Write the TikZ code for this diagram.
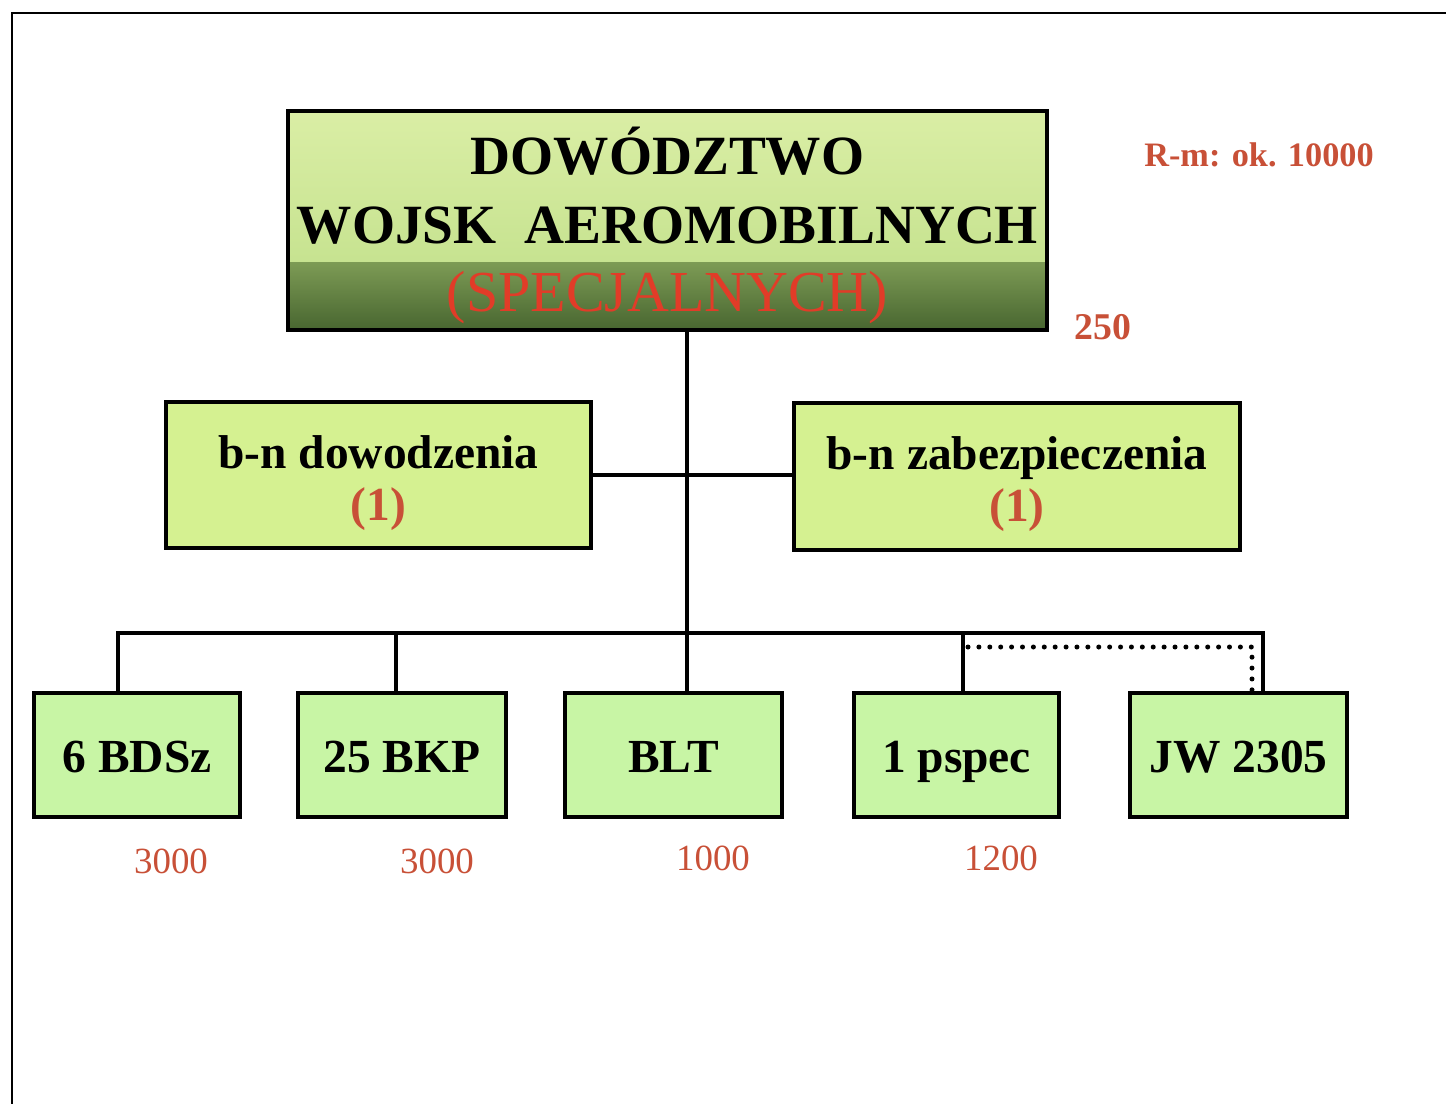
\documentclass[tikz,border=0pt]{standalone}
\usepackage{fontspec}
\setmainfont{Liberation Serif}
\definecolor{hqtop}{RGB}{218,238,165}
\definecolor{hqmid}{RGB}{190,222,135}
\definecolor{hqlow}{RGB}{125,155,85}
\definecolor{hqdark}{RGB}{72,102,48}
\definecolor{bngreen}{RGB}{213,241,145}
\definecolor{unitgreen}{RGB}{200,245,165}
\definecolor{numred}{RGB}{200,80,55}
\definecolor{specred}{RGB}{225,60,40}
\begin{document}
\begin{tikzpicture}[x=0.2mm,y=-0.2mm,
 box/.style={draw,line width=0.8mm,inner sep=0pt},
 unit/.style={box,fill=unitgreen,minimum height=24.8mm,text height=19.4pt,text depth=0pt,
   font=\bfseries\fontsize{27}{30}\selectfont},
 bn/.style={box,fill=bngreen,minimum width=85mm,minimum height=29.2mm,align=center,
   font=\bfseries\fontsize{27}{29.6}\selectfont},
 num/.style={text=numred,font=\fontsize{21}{24}\selectfont},
 link/.style={line width=0.8mm}]
 \useasboundingbox (0,0) rectangle (1446,1104);
 \draw[line width=0.4mm] (12,1104) -- (12,13) -- (1446,13);
 \node[box,minimum width=151.8mm,minimum height=43.8mm,align=center,
   font=\bfseries\fontsize{31.5}{39}\selectfont,
   path picture={
     \shade[top color=hqtop,bottom color=hqmid] (path picture bounding box.north west)
       rectangle ([yshift=-30.2mm]path picture bounding box.north east);
     \shade[top color=hqlow,bottom color=hqdark] ([yshift=-30.2mm]path picture bounding box.north west)
       rectangle (path picture bounding box.south east);
   }] (hq) at (667.5,220.5)
   {\rule{0pt}{33pt}DOWÓDZTWO\\WOJSK\hspace{0.5em}AEROMOBILNYCH\\{\mdseries\fontsize{33}{39}\selectfont\color{specred}(SPECJALNYCH)}};
 \node[text=numred,font=\bfseries\fontsize{19.5}{22}\selectfont] (rm) at (1259,155) {R-m: ok. 10000};
 \node[text=numred,font=\bfseries\fontsize{21.5}{24}\selectfont] (hqn) at (1103,327) {250};
 \node[bn] (dow) at (378.5,475) {\rule{0pt}{27.6pt}b-n dowodzenia\\{\color{numred}(1)}};
 \node[bn,minimum width=89.2mm,minimum height=29.4mm] (zab) at (1017,476.5) {\rule{0pt}{27.6pt}b-n zabezpieczenia\\{\color{numred}(1)}};
 \node[unit,minimum width=41.2mm] (bdsz) at (137,755) {6 BDSz};
 \node[unit,minimum width=41.6mm] (bkp) at (402,755) {25 BKP};
 \node[unit,minimum width=43.4mm] (blt) at (673.5,755) {BLT};
 \node[unit,minimum width=41mm] (pspec) at (956.5,755) {1 pspec};
 \node[unit,minimum width=43.4mm] (jw) at (1238.5,755) {JW 2305};
 \node[num] (nbdsz) at (171,861) {3000};
 \node[num] (nbkp) at (437,861) {3000};
 \node[num] (nblt) at (713,858) {1000};
 \node[num] (npspec) at (1001,858) {1200};
 \coordinate (b1) at (118,633);
 \coordinate (b2) at (396,633);
 \coordinate (b3) at (687,633);
 \coordinate (b4) at (963,633);
 \coordinate (b5) at (1263,633);
 \draw[link] (hq.south -| b3) -- (b3);
 \draw[link] (dow.east) -- (dow.east -| zab.west);
 \draw[link,line cap=rect] (b1) -- (b5);
 \draw[link] (b1) -- (b1 |- bdsz.north);
 \draw[link] (b2) -- (b2 |- bkp.north);
 \draw[link] (b3) -- (b3 |- blt.north);
 \draw[link] (b4) -- (b4 |- pspec.north);
 \draw[link] (b5) -- (b5 |- jw.north);
 \coordinate (d1) at (968,647);
 \coordinate (d2) at (1252,647);
 \draw[line width=1mm,line cap=round,dash pattern=on 0pt off 6.2pt] (d1) -- (d2) -- (d2 |- jw.north);
\end{tikzpicture}
\end{document}
